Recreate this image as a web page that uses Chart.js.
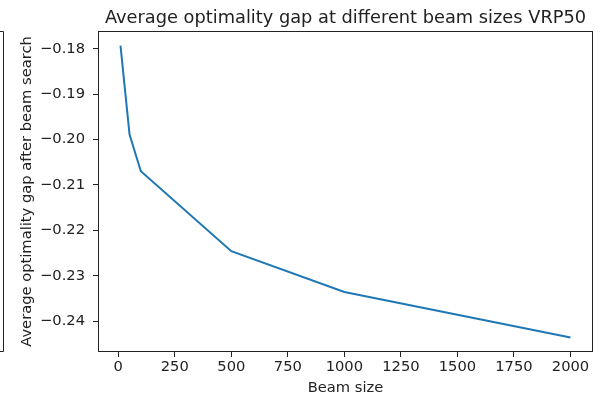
<!DOCTYPE html>
<html>
<head>
<meta charset="utf-8">
<script src="https://cdn.jsdelivr.net/npm/chart.js@4"></script>
<style>
  html, body { margin: 0; padding: 0; background: #fff; }
  #wrap { width: 604px; height: 399px; }
</style>
</head>
<body>
<div id="wrap"><canvas id="myChart"></canvas></div>
<script>
const beamSizes = [10, 50, 100, 500, 1000, 2000];
const gaps = [-0.1793, -0.1989, -0.2070, -0.2246, -0.2336, -0.2436];
const xTicks = [0, 250, 500, 750, 1000, 1250, 1500, 1750, 2000];
const yTicks = [-0.18, -0.19, -0.20, -0.21, -0.22, -0.23, -0.24];
const chartTitle = 'Average optimality gap at different beam sizes VRP50';

Chart.defaults.font.family = 'DejaVu Sans';
Chart.defaults.font.size = 14.7;
Chart.defaults.color = '#222';

// matplotlib style 5% margins
const xMin = Math.min(...beamSizes), xMax = Math.max(...beamSizes);
const yMin = Math.min(...gaps), yMax = Math.max(...gaps);
const xPad = (xMax - xMin) * 0.05, yPad = (yMax - yMin) * 0.05;

const frame = {
  id: 'frame',
  afterDraw(chart) {
    const {ctx, chartArea: a} = chart;
    ctx.save();
    ctx.strokeStyle = '#222';
    ctx.lineWidth = 1;
    ctx.strokeRect(Math.round(a.left) + 0.5, Math.round(a.top) + 0.5,
      Math.round(a.right - a.left) - 1, Math.round(a.bottom - a.top) - 1);
    // edge of the neighbouring plot
    ctx.beginPath();
    ctx.moveTo(0, Math.round(a.top) + 0.5);
    ctx.lineTo(3.5, Math.round(a.top) + 0.5);
    ctx.lineTo(3.5, Math.round(a.bottom) - 0.5);
    ctx.lineTo(0, Math.round(a.bottom) - 0.5);
    ctx.stroke();
    // title centred over the axes, like matplotlib
    ctx.fillStyle = '#222';
    ctx.font = '17.8px "DejaVu Sans"';
    ctx.textAlign = 'center';
    ctx.textBaseline = 'alphabetic';
    ctx.fillText(chartTitle, (a.left + a.right) / 2, 22.5);
    ctx.restore();
  }
};

new Chart(document.getElementById('myChart'), {
  type: 'line',
  data: {
    datasets: [{
      data: beamSizes.map((b, i) => ({x: b, y: gaps[i]})),
      borderColor: '#1f77b4',
      borderWidth: 2,
      pointRadius: 0,
      tension: 0,
      fill: false
    }]
  },
  options: {
    responsive: true,
    maintainAspectRatio: false,
    animation: false,
    layout: { padding: { left: 0, right: 11, top: 31, bottom: 0 } },
    plugins: {
      legend: { display: false },
      tooltip: { enabled: false },
      title: { display: false }
    },
    scales: {
      x: {
        type: 'linear',
        min: xMin - xPad,
        max: xMax + xPad,
        afterBuildTicks: s => { s.ticks = xTicks.map(v => ({value: v})); },
        afterFit: s => { s.height = 47; },
        grid: { display: true, drawOnChartArea: false, drawTicks: true, tickLength: 5, color: '#222' },
        border: { display: false },
        ticks: { padding: 1, maxRotation: 0, autoSkip: false, callback: v => String(v) },
        title: { display: true, text: 'Beam size', padding: { top: 0, bottom: 2 } }
      },
      y: {
        type: 'linear',
        min: yMin - yPad,
        max: yMax + yPad,
        afterBuildTicks: s => { s.ticks = yTicks.map(v => ({value: v})); },
        afterFit: s => { s.width = 98; },
        grid: { display: true, drawOnChartArea: false, drawTicks: true, tickLength: 5, color: '#222' },
        border: { display: false },
        ticks: { padding: 8, autoSkip: false, callback: v => (v < 0 ? '\u2212' : '') + Math.abs(v).toFixed(2) },
        title: { display: true, text: 'Average optimality gap after beam search', padding: { top: 18, bottom: 0 } }
      }
    }
  },
  plugins: [frame]
});
</script>
</body>
</html>
